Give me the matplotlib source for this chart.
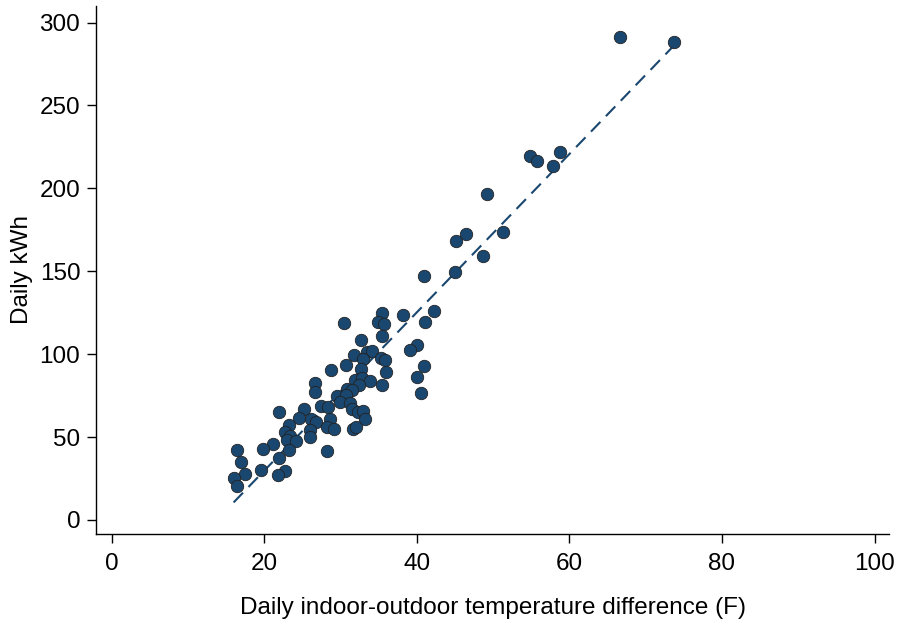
import numpy as np
import matplotlib
matplotlib.use('Agg')
import matplotlib.pyplot as plt

plt.rcParams['font.family'] = ['Liberation Sans', 'DejaVu Sans']

# temperature difference (F) and daily energy use (kWh)
temp_diff = [66.6, 73.7, 54.8, 55.7, 58.8, 57.9, 49.2, 45.2, 46.4, 51.3,
             48.7, 45.0, 40.9, 42.3, 38.2, 41.1, 40.0, 39.1, 41.0, 40.0,
             40.6, 35.4, 30.5, 34.9, 35.7, 35.5, 32.7, 31.8, 33.5, 34.2,
             33.0, 35.3, 35.9, 30.7, 28.8, 32.7, 36.0, 31.9, 32.8, 33.9,
             32.5, 26.7, 26.7, 35.4, 30.8, 31.5, 29.6, 30.7, 29.9, 31.3,
             31.5, 32.3, 32.9, 33.2, 27.5, 28.4, 25.2, 21.9, 24.6, 26.1,
             26.8, 28.6, 28.3, 29.1, 23.3, 22.8, 26.0, 26.0, 23.4, 23.0,
             24.2, 21.1, 19.9, 23.3, 16.4, 22.0, 28.2, 17.0, 19.6, 22.8,
             21.8, 17.5, 16.0, 16.4, 31.6, 32.0]
kwh = [291.4, 288.2, 219.8, 216.2, 221.9, 213.6, 196.6, 168.5, 172.3, 173.8,
       159.1, 149.3, 147.3, 126.2, 123.5, 119.1, 105.4, 102.7, 92.6, 86.4,
       76.7, 125.0, 118.7, 119.4, 118.1, 110.7, 108.6, 99.6, 101.4, 101.9,
       97.0, 97.5, 96.3, 93.5, 90.5, 91.2, 89.3, 84.5, 85.6, 83.6,
       81.2, 82.4, 77.1, 81.4, 79.1, 78.5, 74.7, 75.2, 71.3, 70.3,
       67.0, 64.8, 66.0, 60.6, 68.8, 68.4, 66.8, 65.0, 61.2, 60.7,
       58.8, 60.8, 56.3, 54.8, 57.2, 53.0, 54.5, 49.9, 50.7, 48.3,
       47.7, 45.7, 42.5, 42.0, 42.3, 37.3, 41.7, 35.0, 30.1, 29.5,
       27.2, 27.7, 25.4, 20.7, 54.8, 56.3]

x_ticks = [0, 20, 40, 60, 80, 100]
y_ticks = [0, 50, 100, 150, 200, 250, 300]

navy = '#1a476f'

x = np.array(temp_diff)
y = np.array(kwh)
slope, intercept = np.polyfit(x, y, 1)
xs = np.array([x.min(), x.max()])

fig = plt.figure(figsize=(8.98, 6.29), dpi=100)
ax = fig.add_axes([0.1072, 0.151, 0.8828, 0.8395])

ax.scatter(x, y, s=80, c=navy, edgecolors='#222222', linewidths=0.6, zorder=3)
ax.plot(xs, intercept + slope * xs, color=navy, lw=1.5, dashes=(6.5, 3.8), zorder=2)

ax.set_xlim(-2.0, 101.9)
ax.set_ylim(-8.5, 310)
ax.set_xticks(x_ticks)
ax.set_yticks(y_ticks)
for s in ['top', 'right']:
    ax.spines[s].set_visible(False)
for s in ['left', 'bottom']:
    ax.spines[s].set_linewidth(1.0)
ax.tick_params(axis='both', labelsize=17.5, length=6.5, width=1.0, pad=5)
ax.tick_params(axis='x', pad=7)

ax.set_xlabel('Daily indoor-outdoor temperature difference (F)', fontsize=17.5, labelpad=16)
ax.set_ylabel('Daily kWh', fontsize=17.5, labelpad=5)

fig.savefig('out.png', dpi=100)
